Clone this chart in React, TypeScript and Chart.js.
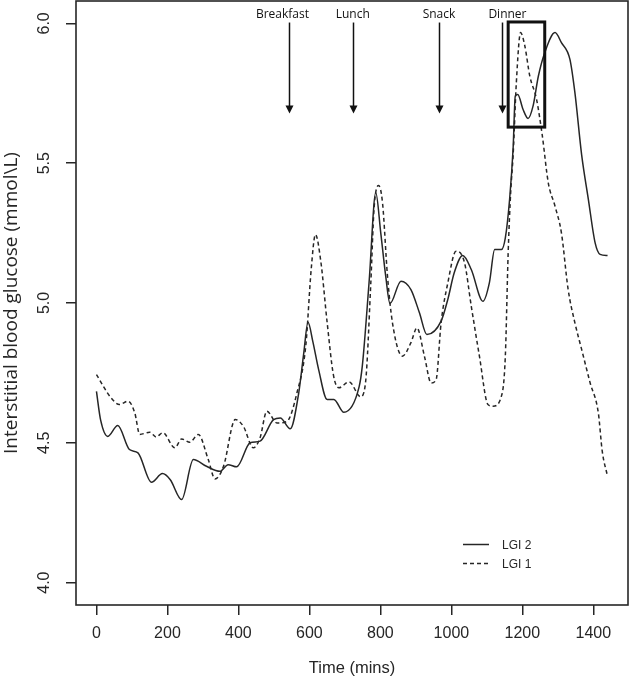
import React, { useEffect, useRef } from "react";
import { Chart, registerables } from "chart.js";

Chart.register(...registerables);

// LGI 2 (solid line)
const lgi2Times = [0, 12, 32, 60, 93, 117, 155, 186, 208, 240, 273, 310, 348, 371, 395, 433, 461, 499, 518, 546, 570, 584, 596, 610, 626, 650, 669, 697, 740, 749, 768, 787, 801, 815, 827, 858, 886, 910, 931, 971, 990, 1008, 1032, 1056, 1089, 1107, 1122, 1141, 1152, 1164, 1174, 1180, 1187, 1202, 1216, 1230, 1245, 1263, 1292, 1310, 1334, 1348, 1367, 1386, 1405, 1419, 1440];
const lgi2Values = [4.684, 4.58, 4.523, 4.562, 4.476, 4.464, 4.359, 4.39, 4.368, 4.297, 4.44, 4.416, 4.398, 4.422, 4.414, 4.5, 4.506, 4.583, 4.589, 4.55, 4.679, 4.82, 4.931, 4.86, 4.762, 4.655, 4.655, 4.609, 4.7, 4.774, 5.072, 5.394, 5.251, 5.096, 4.998, 5.078, 5.048, 4.965, 4.887, 4.935, 5.013, 5.108, 5.17, 5.12, 5.006, 5.072, 5.191, 5.191, 5.233, 5.37, 5.555, 5.74, 5.746, 5.692, 5.66, 5.704, 5.811, 5.895, 5.967, 5.931, 5.871, 5.752, 5.53, 5.37, 5.215, 5.174, 5.17];

// LGI 1 (dashed line)
const lgi1Times = [0, 41, 65, 89, 108, 122, 150, 168, 187, 221, 240, 263, 287, 315, 334, 358, 391, 414, 442, 461, 480, 509, 537, 565, 590, 605, 617, 632, 650, 668, 683, 712, 744, 758, 773, 782, 795, 806, 820, 834, 862, 886, 903, 924, 943, 957, 971, 990, 1013, 1037, 1056, 1079, 1103, 1117, 1141, 1152, 1160, 1167, 1174, 1183, 1195, 1207, 1221, 1240, 1256, 1273, 1292, 1310, 1329, 1348, 1367, 1391, 1414, 1425, 1440];
const lgi1Values = [4.744, 4.661, 4.637, 4.649, 4.607, 4.53, 4.538, 4.521, 4.536, 4.482, 4.514, 4.502, 4.53, 4.44, 4.371, 4.416, 4.583, 4.559, 4.482, 4.518, 4.613, 4.571, 4.577, 4.679, 4.85, 5.12, 5.245, 5.15, 4.93, 4.74, 4.697, 4.718, 4.665, 4.714, 5.072, 5.335, 5.42, 5.358, 5.096, 4.929, 4.81, 4.858, 4.911, 4.81, 4.714, 4.726, 4.929, 5.072, 5.185, 5.144, 4.989, 4.81, 4.637, 4.631, 4.667, 4.81, 5.18, 5.394, 5.53, 5.788, 5.967, 5.919, 5.811, 5.728, 5.6, 5.43, 5.346, 5.251, 5.048, 4.929, 4.834, 4.714, 4.607, 4.47, 4.38];

const xTickValues = [0, 200, 400, 600, 800, 1000, 1200, 1400];
const yTickValues = [4.0, 4.5, 5.0, 5.5, 6.0];

const mealNames = ["Breakfast", "Lunch", "Snack", "Dinner"];
const mealTimes = [543, 723, 966, 1143];
const mealLabelTimes = [524, 722, 965, 1158];
const mealArrowTop = 6.003;
const mealArrowTip = 5.678;
const mealLabelLevel = 6.03;

const boxTimes = [1160, 1263];
const boxLevels = [5.629, 6.005];

const INK = "#262626";

const annotationPlugin = {
  id: "annotations",
  afterDatasetsDraw(chart: any) {
    const { ctx, chartArea } = chart;
    const x = chart.scales.x;
    const y = chart.scales.y;
    ctx.save();

    // plot frame
    ctx.strokeStyle = INK;
    ctx.lineWidth = 1.6;
    ctx.strokeRect(chartArea.left, chartArea.top, chartArea.right - chartArea.left, chartArea.bottom - chartArea.top);

    // meal arrows
    ctx.strokeStyle = "#111";
    ctx.fillStyle = "#111";
    ctx.lineWidth = 1.5;
    mealTimes.forEach((t, i) => {
      const px = Math.round(x.getPixelForValue(t)) + 0.5;
      const top = y.getPixelForValue(mealArrowTop);
      const tip = y.getPixelForValue(mealArrowTip);
      ctx.beginPath();
      ctx.moveTo(px, top);
      ctx.lineTo(px, tip - 6);
      ctx.stroke();
      ctx.beginPath();
      ctx.moveTo(px - 4, tip - 8);
      ctx.lineTo(px + 4, tip - 8);
      ctx.lineTo(px, tip);
      ctx.closePath();
      ctx.fill();
      ctx.font = "12px 'Open Sans'";
      ctx.textAlign = "center";
      ctx.textBaseline = "middle";
      ctx.fillText(mealNames[i], x.getPixelForValue(mealLabelTimes[i]), y.getPixelForValue(mealLabelLevel));
    });

    // highlight box
    const bx0 = x.getPixelForValue(boxTimes[0]);
    const bx1 = x.getPixelForValue(boxTimes[1]);
    const by0 = y.getPixelForValue(boxLevels[1]);
    const by1 = y.getPixelForValue(boxLevels[0]);
    ctx.lineWidth = 3;
    ctx.strokeStyle = "#111";
    ctx.strokeRect(bx0, by0, bx1 - bx0, by1 - by0);

    // legend
    const lx0 = chartArea.left + 387;
    const lx1 = chartArea.left + 413;
    const tx = chartArea.left + 426;
    const rows = [chartArea.top + 543, chartArea.top + 562];
    chart.data.datasets.forEach((ds: any, i: number) => {
      const ly = rows[i] + 0.5;
      ctx.strokeStyle = INK;
      ctx.lineWidth = 1.5;
      ctx.setLineDash(ds.borderDash || []);
      ctx.beginPath();
      ctx.moveTo(lx0, ly);
      ctx.lineTo(lx1, ly);
      ctx.stroke();
      ctx.setLineDash([]);
      ctx.fillStyle = INK;
      ctx.font = "12px 'Liberation Sans', Arial";
      ctx.textAlign = "left";
      ctx.textBaseline = "middle";
      ctx.fillText(ds.label, tx, ly + 1);
    });

    ctx.restore();
  },
};

export default function App() {
  const canvasRef = useRef<HTMLCanvasElement | null>(null);

  useEffect(() => {
    const canvas = canvasRef.current;
    if (!canvas) return;
    const tickFont = { family: "'Liberation Sans', Arial", size: 16 };
    const chart = new Chart(canvas, {
      type: "line",
      data: {
        datasets: [
          {
            label: "LGI 2",
            data: lgi2Times.map((t, i) => ({ x: t, y: lgi2Values[i] })),
            borderColor: INK,
            borderWidth: 1.5,
            pointRadius: 0,
            cubicInterpolationMode: "monotone",
            fill: false,
          },
          {
            label: "LGI 1",
            data: lgi1Times.map((t, i) => ({ x: t, y: lgi1Values[i] })),
            borderColor: INK,
            borderWidth: 1.5,
            borderDash: [4, 3],
            pointRadius: 0,
            cubicInterpolationMode: "monotone",
            fill: false,
          },
        ],
      },
      options: {
        animation: false,
        responsive: false,
        devicePixelRatio: 1,
        layout: { padding: { left: 0, right: 2, top: 1, bottom: 0 } },
        plugins: { legend: { display: false }, tooltip: { enabled: false } },
        scales: {
          x: {
            type: "linear",
            min: -57.6,
            max: 1497.6,
            afterBuildTicks: (s: any) => {
              s.ticks = xTickValues.map((v) => ({ value: v }));
            },
            afterFit: (s: any) => {
              s.height = 76;
              s.paddingLeft = 0;
              s.paddingRight = 0;
            },
            border: { display: false },
            grid: { drawOnChartArea: false, drawTicks: true, tickLength: 10, color: INK, lineWidth: 1.5 },
            ticks: { font: tickFont, color: INK, padding: 9, maxRotation: 0, autoSkip: false, callback: (v: any) => String(v) },
            title: { display: true, text: "Time (mins)", font: { family: "'Liberation Sans', Arial", size: 16.5 }, color: INK, padding: { top: 0, bottom: 3 } },
          },
          y: {
            type: "linear",
            min: 3.92,
            max: 6.08,
            afterBuildTicks: (s: any) => {
              s.ticks = yTickValues.map((v) => ({ value: v }));
            },
            afterFit: (s: any) => {
              s.width = 76;
              s.paddingTop = 0;
              s.paddingBottom = 0;
            },
            border: { display: false },
            grid: { drawOnChartArea: false, drawTicks: true, tickLength: 10, color: INK, lineWidth: 1.5 },
            ticks: {
              font: tickFont,
              color: INK,
              padding: 10,
              minRotation: 90,
              maxRotation: 90,
              crossAlign: "center",
              autoSkip: false,
              callback: (v: any) => Number(v).toFixed(1),
            },
            title: { display: true, text: "Interstitial blood glucose (mmol\\L)", font: { family: "'Open Sans'", size: 19 }, color: INK, padding: { top: 0, bottom: 0 } },
          },
        },
      },
      plugins: [annotationPlugin],
    } as any);
    return () => chart.destroy();
  }, []);

  return (
    <div style={{ position: "absolute", left: 0, top: 0, width: 630, height: 681, background: "#fff" }}>
      <canvas ref={canvasRef} width={630} height={681} style={{ display: "block" }} />
    </div>
  );
}
